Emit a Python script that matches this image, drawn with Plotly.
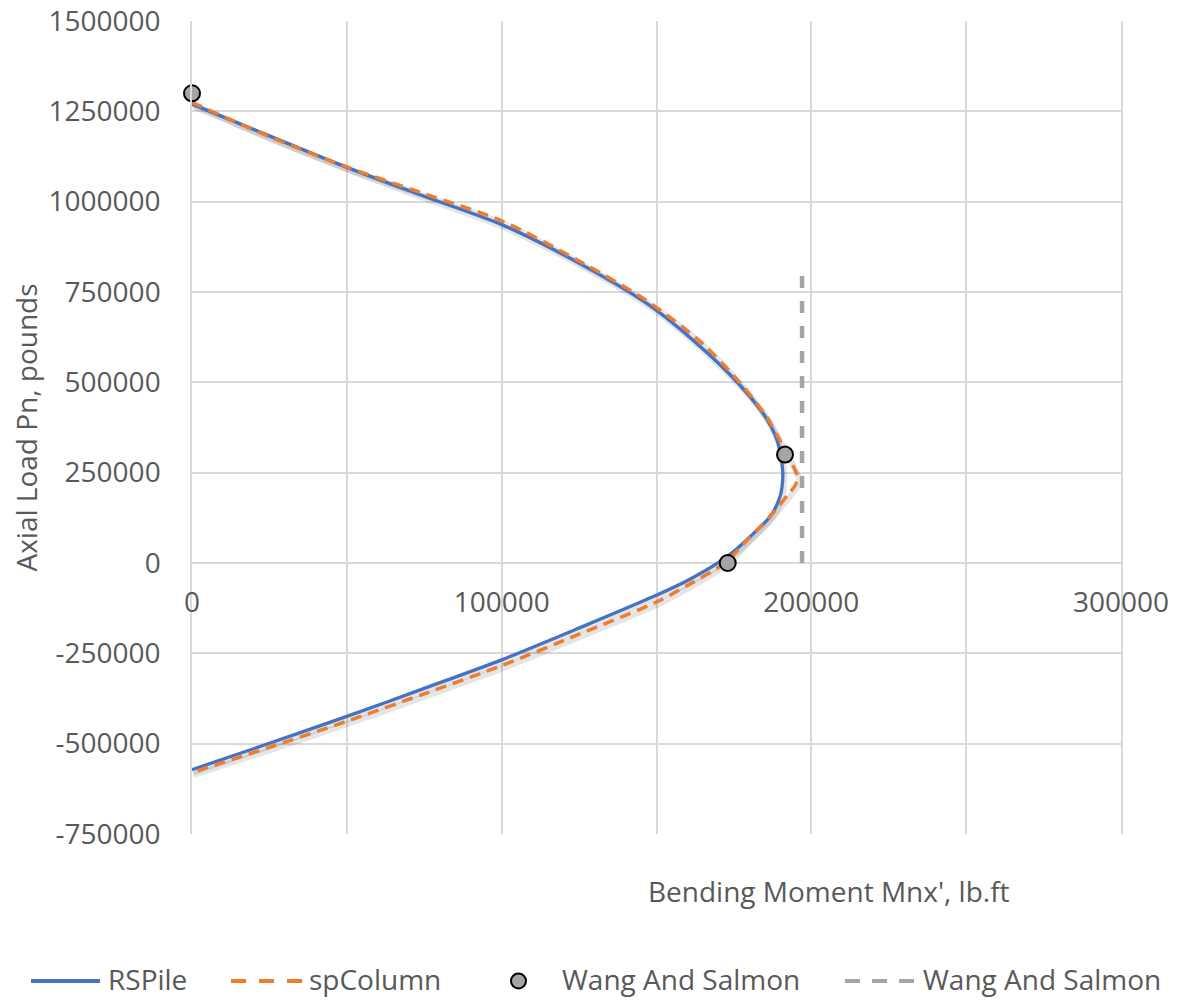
import plotly.graph_objects as go

# Interaction diagram data: bending moment (lb.ft) vs axial load (pounds)
rspile_moment = [0, 25000, 50000, 75000, 100000, 125000, 147800, 164000, 176500, 185100,
                 188900, 190500, 190800, 189900, 186700, 180300, 172800, 160800, 149000,
                 125000, 100000, 75000, 50000, 25000, 0]
rspile_load = [1270000, 1182000, 1095000, 1015000, 936500, 830000, 713000, 600000, 496500, 405000,
               340800, 276000, 239000, 184000, 128700, 73500, 17500, -45000, -93000,
               -180000, -268000, -347000, -424500, -499000, -572000]

spcolumn_moment = [0, 25000, 50000, 75000, 100000, 125000, 147000, 164500, 176800, 185500,
                   189800, 192500, 194500, 195600, 194800, 193000, 190000, 186000, 180000,
                   172000, 160000, 150000, 125000, 100000, 75000, 50000, 25000, 0]
spcolumn_load = [1275000, 1180000, 1096000, 1022000, 947000, 836000, 725000, 610000, 500000, 405000,
                 340000, 295000, 262000, 238000, 215000, 195000, 163000, 123000, 70000,
                 0, -62000, -108000, -197000, -284000, -362000, -438000, -510000, -580000]

wang_points_moment = [0, 191500, 173000]
wang_points_load = [1300000, 300000, 0]

wang_limit_moment = [197000, 197000]
wang_limit_load = [0, 800000]

x_tick_values = [0, 50000, 100000, 150000, 200000, 250000, 300000]
x_tick_labels = ["0", "", "100000", "", "200000", "", "300000"]
y_tick_values = [-750000, -500000, -250000, 0, 250000, 500000, 750000, 1000000, 1250000, 1500000]
y_tick_labels = ["-750000", "-500000", "-250000", "0", "250000", "500000", "750000",
                 "1000000", "1250000", "1500000"]

X_RANGE = [0, 300000]
Y_RANGE = [-750000, 1500000]

BLUE = "#4472C4"
ORANGE = "#ED7D31"
GRAY = "#A5A5A5"
TEXT = "#595959"
GRID = "#D9D9D9"
SHADOW = "rgba(0,0,0,0.10)"
FONT = "Open Sans"

W, H = 1177, 1000
ML, MR, MT, MB = 192, 56, 21, 166
PW, PH = W - ML - MR, H - MT - MB


def px(x):
    return (x - ML) / PW


def py(y):
    return (H - MB - y) / PH


# soft drop shadow under the curves: shifted ~1.5 px right and 2.5 px down
dx = 1.5 * (X_RANGE[1] - X_RANGE[0]) / PW
dy = 2.5 * (Y_RANGE[1] - Y_RANGE[0]) / PH

fig = go.Figure()
for xs, ys in ((rspile_moment, rspile_load), (spcolumn_moment, spcolumn_load)):
    fig.add_trace(go.Scatter(x=[v + dx for v in xs], y=[v - dy for v in ys], mode="lines",
                             hoverinfo="skip", showlegend=False,
                             line=dict(color=SHADOW, width=6, shape="spline", smoothing=0.8)))

fig.add_trace(go.Scatter(x=rspile_moment, y=rspile_load, mode="lines", name="RSPile",
                         line=dict(color=BLUE, width=3.3, shape="spline", smoothing=0.8)))
fig.add_trace(go.Scatter(x=spcolumn_moment, y=spcolumn_load, mode="lines", name="spColumn",
                         line=dict(color=ORANGE, width=3.5, dash="11px,7px", shape="spline",
                                   smoothing=0.8)))
fig.add_trace(go.Scatter(x=wang_points_moment, y=wang_points_load, mode="markers",
                         name="Wang And Salmon", cliponaxis=False,
                         marker=dict(color=GRAY, size=16, line=dict(color="black", width=2))))
fig.add_trace(go.Scatter(x=wang_limit_moment, y=wang_limit_load, mode="lines",
                         name="Wang And Salmon",
                         line=dict(color=GRAY, width=4.5, dash="12px,13px")))

fig.update_layout(
    width=W, height=H,
    margin=dict(l=ML, r=MR, t=MT, b=MB, pad=0, autoexpand=False),
    paper_bgcolor="white", plot_bgcolor="white",
    showlegend=False,
    font=dict(family=FONT, size=28, color=TEXT),
    xaxis=dict(range=X_RANGE, tickmode="array", tickvals=x_tick_values,
               ticktext=x_tick_labels, showgrid=True, gridcolor=GRID, gridwidth=1.5,
               zeroline=False, showline=False, ticks="", anchor="free", position=1 / 3,
               automargin=False, ticklabelstandoff=20, tickfont=dict(size=28, color=TEXT)),
    yaxis=dict(range=Y_RANGE, tickmode="array", tickvals=y_tick_values,
               ticktext=y_tick_labels, showgrid=True, gridcolor=GRID, gridwidth=1.5,
               zeroline=False, showline=True, linecolor=GRID, linewidth=1.5, mirror=True,
               automargin=False, ticks="", ticklabelstandoff=24,
               tickfont=dict(size=28, color=TEXT)),
)

annotations = [
    dict(text="Axial Load Pn, pounds", x=px(25), y=0.5, xref="paper", yref="paper",
         textangle=-90, showarrow=False, font=dict(size=28, color=TEXT),
         xanchor="center", yanchor="middle"),
    dict(text="Bending Moment Mnx', lb.ft", x=px(829), y=py(891), xref="paper", yref="paper",
         showarrow=False, font=dict(size=28, color=TEXT), xanchor="center", yanchor="middle"),
]

# Legend row along the bottom
LEG_Y = 979
legend_text = [("RSPile", 106), ("spColumn", 307), ("Wang And Salmon", 560),
               ("Wang And Salmon", 921)]
for label, x0 in legend_text:
    annotations.append(dict(text=label, x=px(x0), y=py(LEG_Y), xref="paper", yref="paper",
                            showarrow=False, font=dict(size=28, color=TEXT),
                            xanchor="left", yanchor="middle"))

shapes = [
    dict(type="line", xref="paper", yref="paper", x0=px(31), x1=px(100), y0=py(LEG_Y + 2),
         y1=py(LEG_Y + 2), line=dict(color=BLUE, width=4)),
    dict(type="line", xref="paper", yref="paper", x0=px(231), x1=px(302), y0=py(LEG_Y + 2),
         y1=py(LEG_Y + 2), line=dict(color=ORANGE, width=4, dash="15px,13px")),
    dict(type="circle", xref="paper", yref="paper", x0=px(511), x1=px(526), y0=py(LEG_Y - 5.5),
         y1=py(LEG_Y + 9.5), fillcolor=GRAY, line=dict(color="black", width=2)),
    dict(type="line", xref="paper", yref="paper", x0=px(845), x1=px(915), y0=py(LEG_Y + 2),
         y1=py(LEG_Y + 2), line=dict(color=GRAY, width=4, dash="15px,12px")),
]

fig.update_layout(annotations=annotations, shapes=shapes)
fig.write_html("out.html")
